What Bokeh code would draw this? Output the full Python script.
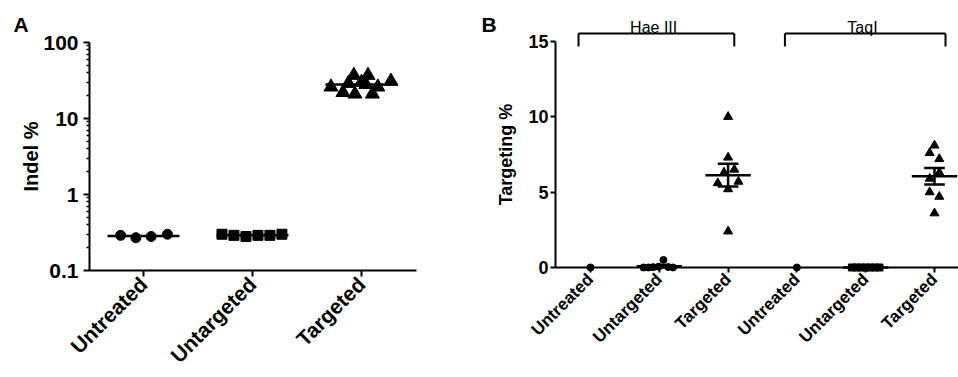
import numpy as np
from math import pi
from bokeh.plotting import figure
from bokeh.models import Range1d, FixedTicker, Label
from bokeh.layouts import row
from bokeh.embed import file_html
from bokeh.resources import INLINE

FONT = "Liberation Sans"

# ---------------- Panel A data ----------------
a_categories = ["Untreated", "Untargeted", "Targeted"]
a_untreated = [0.29, 0.27, 0.28, 0.30]
a_untargeted = [0.30, 0.29, 0.28, 0.29, 0.29, 0.30]
a_targeted = [26, 22, 29, 37, 21, 30, 28, 37, 21, 26, 31]
a_yticks = [0.1, 1, 10, 100]
a_ytick_labels = ["0.1", "1", "10", "100"]

# horizontal scatter offsets (category units)
a_off_untreated = [-0.21, -0.07, 0.07, 0.22]
a_off_untargeted = [-0.28, -0.17, -0.06, 0.05, 0.16, 0.27]
a_off_targeted = [-0.28, -0.17, -0.12, -0.07, -0.06, 0.0, 0.04, 0.06, 0.10, 0.15, 0.27]

# ---------------- Panel B data ----------------
b_categories = ["Untreated", "Untargeted", "Targeted", "Untreated", "Untargeted", "Targeted"]
b_groups = ["Hae III", "TaqI"]
b_hae_untreated = [0.0]
b_hae_untargeted = [0.0, 0.0, 0.02, 0.05, 0.5, 0.03, 0.0]
b_hae_targeted = [10.0, 7.3, 6.3, 6.5, 5.6, 5.7, 5.2, 2.4]
b_taq_untreated = [0.0]
b_taq_untargeted = [0.0, 0.0, 0.0, 0.0, 0.0, 0.0, 0.0]
b_taq_targeted = [8.1, 7.6, 7.2, 6.3, 5.9, 5.0, 4.7, 3.6]
b_yticks = [0, 5, 10, 15]

b_off_single = [0.0]
b_off_hae_untargeted = [-0.23, -0.16, -0.09, -0.01, 0.06, 0.13, 0.20]
b_off_hae_targeted = [0.0, 0.0, -0.06, 0.09, -0.15, 0.15, 0.0, 0.0]
b_off_taq_untargeted = [-0.2, -0.133, -0.067, 0.0, 0.067, 0.133, 0.2]
b_off_taq_targeted = [0.0, -0.07, 0.07, 0.07, -0.07, -0.07, 0.07, 0.0]

H = 376


def style_axes(p):
    p.outline_line_color = None
    p.xgrid.visible = False
    p.ygrid.visible = False
    p.background_fill_color = "white"
    p.border_fill_color = "white"
    for ax in (p.xaxis[0], p.yaxis[0]):
        ax.axis_line_color = "black"
        ax.axis_line_width = 2
        ax.major_tick_line_color = "black"
        ax.major_tick_line_width = 2
        ax.major_tick_in = 0
        ax.minor_tick_in = 0
        ax.major_label_text_font = FONT
        ax.major_label_text_font_style = "bold"
        ax.major_label_text_color = "black"
        ax.axis_label_text_font = FONT
        ax.axis_label_text_font_style = "bold"
        ax.axis_label_text_color = "black"


# ================= Panel A =================
# frame fills the whole canvas; axes are pinned inside it with fixed_location
pA = figure(width=480, height=H, x_range=Range1d(-0.312, 4.092), y_range=Range1d(0.00403, 357),
            y_axis_type="log", output_backend="svg", toolbar_location=None,
            min_border_left=0, min_border_right=0, min_border_top=0, min_border_bottom=0)
style_axes(pA)

xa = pA.xaxis[0]
xa.ticker = FixedTicker(ticks=[1, 2, 3])
xa.major_label_overrides = {i + 1: c for i, c in enumerate(a_categories)}
xa.major_label_orientation = pi / 4
xa.major_label_text_font_size = "21px"
xa.major_tick_out = 6
xa.major_label_standoff = 4
xa.fixed_location = 0.1
xa.bounds = (0.505, 3.505)

ya = pA.yaxis[0]
ya.ticker = FixedTicker(ticks=a_yticks,
                        minor_ticks=[m * 10.0 ** e for e in (-1, 0, 1) for m in range(2, 10)])
ya.major_label_overrides = dict(zip(a_yticks, a_ytick_labels))
ya.major_label_text_font_size = "21px"
ya.major_tick_out = 6
ya.minor_tick_out = 3
ya.minor_tick_line_color = "black"
ya.minor_tick_line_width = 1.5
ya.major_label_standoff = 5
ya.axis_label = "Indel %"
ya.axis_label_text_font_size = "20px"
ya.axis_label_standoff = -2
ya.fixed_location = 0.505
ya.bounds = (0.1, 100)

a_sets = [(a_untreated, a_off_untreated, "circle", 10),
          (a_untargeted, a_off_untargeted, "square", 10),
          (a_targeted, a_off_targeted, "triangle", 14)]
for i, (vals, offs, mk, sz) in enumerate(a_sets):
    xs = [i + 1 + o for o in offs]
    pA.scatter(xs, vals, marker=mk, size=sz, fill_color="black", line_color="black")
    med = float(np.median(vals))
    pA.segment(x0=[i + 1 - 0.33], x1=[i + 1 + 0.33], y0=[med], y1=[med],
               line_color="black", line_width=2.5)

pA.add_layout(Label(x=-0.193, y=248, text="A", text_font=FONT, text_font_style="bold",
                    text_font_size="21px", text_align="left", text_baseline="top",
                    text_color="black"))

# ================= Panel B =================
pB = figure(width=478, height=H, x_range=Range1d(-0.599, 6.349), y_range=Range1d(-7.233, 17.717),
            output_backend="svg", toolbar_location=None,
            min_border_left=0, min_border_right=0, min_border_top=0, min_border_bottom=0)
style_axes(pB)

xb = pB.xaxis[0]
xb.ticker = FixedTicker(ticks=[1, 2, 3, 4, 5, 6])
xb.major_label_overrides = {i + 1: c for i, c in enumerate(b_categories)}
xb.major_label_orientation = pi / 4
xb.major_label_text_font_size = "17px"
xb.major_tick_out = 5
xb.major_label_standoff = 4
xb.fixed_location = 0
xb.bounds = (0.491, 6.349)

yb = pB.yaxis[0]
yb.ticker = FixedTicker(ticks=b_yticks)
yb.bounds = (0, 15)
yb.major_label_text_font_size = "18px"
yb.major_tick_out = 5
yb.minor_tick_out = 0
yb.major_label_standoff = 2
yb.axis_label = "Targeting %"
yb.axis_label_text_font_size = "18px"
yb.axis_label_standoff = 9
yb.fixed_location = 0.491

b_sets = [(b_hae_untreated, b_off_single, "circle", 7),
          (b_hae_untargeted, b_off_hae_untargeted, "circle", 7),
          (b_hae_targeted, b_off_hae_targeted, "triangle", 9),
          (b_taq_untreated, b_off_single, "circle", 7),
          (b_taq_untargeted, b_off_taq_untargeted, "square", 7),
          (b_taq_targeted, b_off_taq_targeted, "triangle", 9)]
for i, (vals, offs, mk, sz) in enumerate(b_sets):
    c = i + 1
    xs = [c + o for o in offs]
    pB.scatter(xs, vals, marker=mk, size=sz, fill_color="black", line_color="black")
    if len(vals) > 1:
        m = float(np.mean(vals))
        sem = float(np.std(vals, ddof=1) / np.sqrt(len(vals)))
        pB.segment(x0=[c - 0.33], x1=[c + 0.33], y0=[m], y1=[m], line_color="black", line_width=2.5)
        pB.segment(x0=[c, c - 0.15, c - 0.15], x1=[c, c + 0.15, c + 0.15],
                   y0=[m - sem, m + sem, m - sem], y1=[m + sem, m + sem, m - sem],
                   line_color="black", line_width=2.5)

# brackets over the two enzyme groups
for g, name in enumerate(b_groups):
    left = g * 3 + 1 - 0.174
    right = g * 3 + 3 + 0.09 + g * 0.07
    top, foot = 15.53, 14.67
    pB.segment(x0=[left, left, right], x1=[right, left, right],
               y0=[top, top, top], y1=[top, foot, foot], line_color="black", line_width=2)
    pB.add_layout(Label(x=(left + right) / 2 - 0.04, y=15.93, text=name, text_font=FONT,
                        text_font_size="16px", text_align="center", text_baseline="alphabetic",
                        text_color="black"))

pB.add_layout(Label(x=-0.585, y=16.92, text="B", text_font=FONT, text_font_style="bold",
                    text_font_size="21px", text_align="left", text_baseline="top",
                    text_color="black"))

layout = row(pA, pB)
open("out.html", "w").write(file_html(layout, INLINE))
